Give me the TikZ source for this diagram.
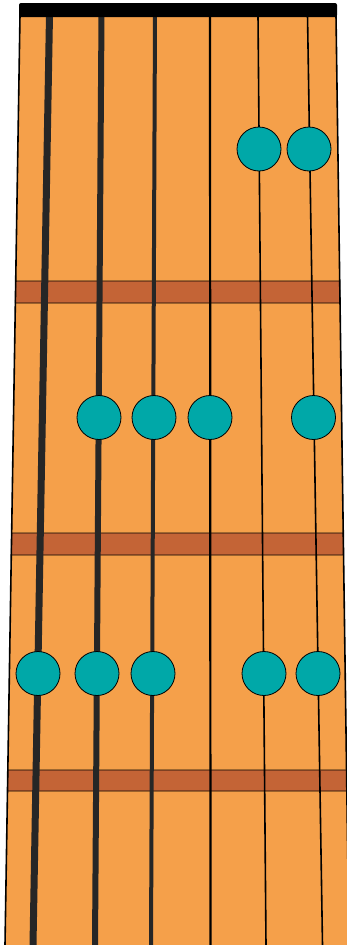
\documentclass[tikz,border=0pt]{standalone}
\definecolor{board}{RGB}{245,160,74}
\definecolor{fretc}{RGB}{196,100,54}
\definecolor{dotc}{RGB}{0,168,168}
\definecolor{strc}{RGB}{38,38,38}
\tikzset{
  fretstrip/.style={fill=fretc,draw=black,line width=0.8pt},
  gstring/.style={draw=strc,line cap=butt},
  fdot/.style={circle,fill=dotc,draw=black,line width=0.8pt,minimum size=44pt,inner sep=0pt}
}
\begin{document}
\begin{tikzpicture}[x=1pt,y=-1pt]
\useasboundingbox (0,0) rectangle (347,945);
\begin{scope}
\clip (0,0) rectangle (347,945);
% fretboard
\fill[board] (20,15) -- (336,15) -- (349,945) -- (5,945) -- cycle;
% frets
\draw[fretstrip] (15.71,281) -- (339.72,281) -- (340.03,303) -- (15.35,303) -- cycle;
\draw[fretstrip] (11.65,533) -- (343.24,533) -- (343.55,555) -- (11.29,555) -- cycle;
\draw[fretstrip] (7.82,770) -- (346.55,770) -- (346.85,791) -- (7.48,791) -- cycle;
% board edges
\draw[black,line width=1.6pt] (20,15) -- (5,945);
\draw[black,line width=1.6pt] (336,15) -- (349,945);
% strings
\coordinate (s1t) at (49.5,15); \coordinate (s1b) at (33,945);
\coordinate (s2t) at (101.5,15); \coordinate (s2b) at (95,945);
\coordinate (s3t) at (155,15); \coordinate (s3b) at (151,945);
\coordinate (s4t) at (210,15); \coordinate (s4b) at (210.5,945);
\coordinate (s5t) at (258,15); \coordinate (s5b) at (266,945);
\coordinate (s6t) at (307.5,15); \coordinate (s6b) at (322.5,945);
\draw[gstring,line width=7pt] (s1t) -- (s1b);
\draw[gstring,line width=6pt] (s2t) -- (s2b);
\draw[gstring,line width=4pt] (s3t) -- (s3b);
\draw[gstring,draw=black,line width=2.2pt] (s4t) -- (s4b);
\draw[gstring,draw=black,line width=1.6pt] (s5t) -- (s5b);
\draw[gstring,draw=black,line width=1.6pt] (s6t) -- (s6b);
% nut
\fill[black,rounded corners=2pt] (19,3) rectangle (337,17);
% dots
\node[fdot] (a5) at (259,149) {};
\node[fdot] (a6) at (309,149) {};
\node[fdot] (b2) at (99,417.5) {};
\node[fdot] (b3) at (154,417.5) {};
\node[fdot] (b4) at (210,417.5) {};
\node[fdot] (b6) at (313.5,417.5) {};
\node[fdot] (c1) at (38,673.5) {};
\node[fdot] (c2) at (97,673.5) {};
\node[fdot] (c3) at (153,673.5) {};
\node[fdot] (c5) at (264,673.5) {};
\node[fdot] (c6) at (318,673.5) {};
\end{scope}
\end{tikzpicture}
\end{document}
